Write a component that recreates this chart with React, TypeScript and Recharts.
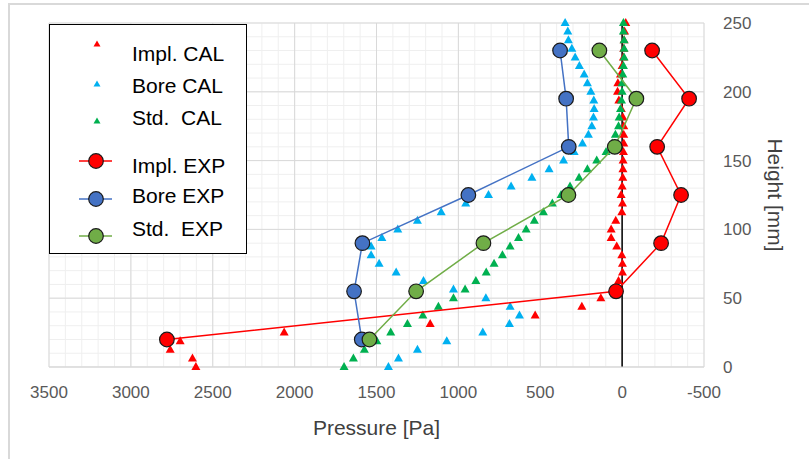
import React from "react";
import {
  CartesianGrid,
  ReferenceLine,
  Scatter,
  ScatterChart,
  XAxis,
  YAxis,
} from "recharts";

// heights of the calculated profiles [mm]
const CAL_HEIGHT = [
  250, 243.75, 237.5, 231.25, 225, 218.75, 212.5, 206.25, 200, 193.75, 187.5,
  181.25, 175, 168.75, 162.5, 156.25, 150, 143.75, 137.5, 131.25, 125, 118.75,
  112.5, 106.25, 100, 93.75, 87.5, 81.25, 75, 68.75, 62.5, 56.25, 50, 43.75,
  37.5, 31.25, 25, 18.75, 12.5, 6.25, 0,
];

// pressures [Pa], same order as CAL_HEIGHT
const IMPL_CAL = [
  -22, -15, -12, -10, -8, 0, 10, 26, 28, 20, 5, -5, -10, -10, -10, -8, -6, -5,
  -4, 0, 6, -2, 2, 39, 67, 67, 33, 2, -2, -2, 22, 40, 130, 246, 531, 1172, 2064,
  2699, 2760, 2624, 2603,
];
const BORE_CAL = [
  348, 332, 328, 307, 287, 261, 232, 212, 191, 173, 171, 175, 185, 206, 242,
  293, 358, 446, 551, 678, 816, 955, 1105, 1250, 1370, 1467, 1533, 1533, 1484,
  1380, 1213, 1030, 832, 684, 627, 688, 851, 1071, 1250, 1366, 1427,
];
const STD_CAL = [
  -8, -8, -12, -12, -12, -8, -4, 0, 0, 4, 10, 18, 22, 41, 60, 98, 155, 212, 263,
  318, 373, 426, 481, 536, 586, 633, 684, 731, 782, 830, 893, 959, 1030, 1122,
  1217, 1311, 1413, 1498, 1574, 1641, 1698,
];

// measured profiles
const EXP_HEIGHT = [20, 55, 90, 125, 160, 195, 230];
const IMPL_EXP = [2780, 37, -238, -360, -214, -409, -183];
const BORE_EXP = [1590, 1637, 1586, 939, 326, 342, 379];
const STD_EXP = [1543, 1258, 847, 328, 45, -87, 139];

const X_TICKS = [3500, 3000, 2500, 2000, 1500, 1000, 500, 0, -500];
const X_MINOR = [
  3500, 3400, 3300, 3200, 3100, 3000, 2900, 2800, 2700, 2600, 2500, 2400, 2300,
  2200, 2100, 2000, 1900, 1800, 1700, 1600, 1500, 1400, 1300, 1200, 1100, 1000,
  900, 800, 700, 600, 500, 400, 300, 200, 100, 0, -100, -200, -300, -400, -500,
];
const Y_TICKS = [0, 50, 100, 150, 200, 250];
const Y_MINOR = [
  0, 10, 20, 30, 40, 50, 60, 70, 80, 90, 100, 110, 120, 130, 140, 150, 160, 170,
  180, 190, 200, 210, 220, 230, 240, 250,
];

const X_DOMAIN = [-500, 3500];
const Y_DOMAIN = [0, 250];

const toRows = (ps: number[], hs: number[]) =>
  ps.map((p, i) => ({ p, h: hs[i] }));

const RED = "#FF0000";
const CYAN = "#00B0F0";
const GREEN_T = "#00B050";
const BLUE = "#4472C4";
const GREEN = "#70AD47";

const tri = (color: string) => (props: any) => {
  const { cx, cy } = props;
  if (cx == null || cy == null) return <g />;
  return (
    <polygon
      points={`${cx},${cy - 5} ${cx + 4.5},${cy + 3} ${cx - 4.5},${cy + 3}`}
      fill={color}
    />
  );
};

const dot = (color: string) => (props: any) => {
  const { cx, cy } = props;
  if (cx == null || cy == null) return <g />;
  return <circle cx={cx} cy={cy} r={7.3} fill={color} stroke="#1a1a1a" strokeWidth={1.2} />;
};

// minor grid positions, from the axis scale when available
const minorX = (props: any) => {
  const s = props?.xAxis?.scale;
  if (typeof s === "function") return X_MINOR.map((v) => s(v));
  const o = props.offset;
  return X_MINOR.map((v) => o.left + ((X_DOMAIN[1] - v) / (X_DOMAIN[1] - X_DOMAIN[0])) * o.width);
};
const minorY = (props: any) => {
  const s = props?.yAxis?.scale;
  if (typeof s === "function") return Y_MINOR.map((v) => s(v));
  const o = props.offset;
  return Y_MINOR.map((v) => o.top + ((Y_DOMAIN[1] - v) / (Y_DOMAIN[1] - Y_DOMAIN[0])) * o.height);
};

const LEGEND_ITEMS = [
  { name: "Impl. CAL", kind: "tri", color: RED, ty: 29, my: 19 },
  { name: "Bore CAL", kind: "tri", color: CYAN, ty: 61, my: 59 },
  { name: "Std.  CAL", kind: "tri", color: GREEN_T, ty: 93, my: 96 },
  { name: "Impl. EXP", kind: "dot", color: RED, ty: 141, my: 136 },
  { name: "Bore EXP", kind: "dot", color: BLUE, ty: 171, my: 174 },
  { name: "Std.  EXP", kind: "dot", color: GREEN, ty: 204, my: 211 },
];

function ChartLegend() {
  return (
    <div
      style={{
        position: "absolute",
        left: 49,
        top: 24,
        width: 196,
        height: 228,
        background: "#fff",
        border: "1.5px solid #000",
        fontFamily: "'Liberation Sans', Arial, sans-serif",
      }}
    >
      <svg width={196} height={228} style={{ position: "absolute", left: 0, top: 0 }}>
        {LEGEND_ITEMS.map((it) =>
          it.kind === "tri" ? (
            <polygon
              key={it.name}
              points={`47,${it.my - 3.5} 50.5,${it.my + 2.5} 43.5,${it.my + 2.5}`}
              fill={it.color}
            />
          ) : (
            <g key={it.name}>
              <line x1={29} x2={62} y1={it.my} y2={it.my} stroke={it.color} strokeWidth={1.5} />
              <circle cx={46} cy={it.my} r={7.3} fill={it.color} stroke="#1a1a1a" strokeWidth={1.2} />
            </g>
          )
        )}
      </svg>
      {LEGEND_ITEMS.map((it) => (
        <div
          key={it.name}
          style={{
            position: "absolute",
            left: 82,
            top: it.ty - 13,
            height: 26,
            lineHeight: "26px",
            fontSize: 21,
            color: "#000",
            whiteSpace: "pre",
          }}
        >
          {it.name}
        </div>
      ))}
    </div>
  );
}

const tickStyle = { fontSize: 17, fill: "#595959", fontFamily: "'Liberation Sans', Arial, sans-serif" };

export default function App() {
  return (
    <div style={{ position: "absolute", left: 0, top: 0, width: 809, height: 459, background: "#fff" }}>
      <div
        style={{
          position: "absolute",
          left: 8,
          top: 3,
          width: 820,
          height: 470,
          borderLeft: "2px solid #D9D9D9",
          borderTop: "2px solid #D9D9D9",
        }}
      />
      <ScatterChart
        width={809}
        height={459}
        margin={{ top: 23, left: 49, right: 20, bottom: 17 }}
        style={{ position: "absolute", left: 0, top: 0 }}
      >
        <CartesianGrid
          stroke="#EFEFEF"
          strokeWidth={1}
          verticalCoordinatesGenerator={minorX}
          horizontalCoordinatesGenerator={minorY}
        />
        <CartesianGrid stroke="#D9D9D9" strokeWidth={1} />
        <XAxis
          type="number"
          dataKey="p"
          domain={X_DOMAIN}
          reversed
          ticks={X_TICKS}
          interval={0}
          height={75}
          axisLine={{ stroke: "#D9D9D9" }}
          tickLine={false}
          tickSize={6}
          tickMargin={13}
          tick={tickStyle}
          label={{
            content: (props: any) => {
              const vb = props.viewBox || {};
              return (
                <text
                  x={vb.x + vb.width / 2}
                  y={427}
                  textAnchor="middle"
                  dominantBaseline="central"
                  fontSize={21}
                  fill="#404040"
                  fontFamily="'Liberation Sans', Arial, sans-serif"
                >
                  Pressure [Pa]
                </text>
              );
            },
          }}
        />
        <YAxis
          type="number"
          dataKey="h"
          domain={Y_DOMAIN}
          ticks={Y_TICKS}
          interval={0}
          orientation="right"
          width={85}
          axisLine={false}
          tickLine={false}
          tickSize={6}
          tickMargin={13}
          tick={{ ...tickStyle, textAnchor: "start" }}
          label={{
            content: (props: any) => {
              const vb = props.viewBox || {};
              const cx = vb.x + 71;
              const cy = vb.y + vb.height / 2;
              return (
                <text
                  x={cx}
                  y={cy}
                  transform={`rotate(90 ${cx} ${cy})`}
                  textAnchor="middle"
                  dominantBaseline="central"
                  fontSize={21}
                  fill="#404040"
                  fontFamily="'Liberation Sans', Arial, sans-serif"
                >
                  Height [mm]
                </text>
              );
            },
          }}
        />
        <ReferenceLine x={0} stroke="#000" strokeWidth={1.5} />
        <Scatter
          name="Impl. CAL"
          data={toRows(IMPL_CAL, CAL_HEIGHT)}
          shape={tri(RED)}
          isAnimationActive={false}
        />
        <Scatter
          name="Bore CAL"
          data={toRows(BORE_CAL, CAL_HEIGHT)}
          shape={tri(CYAN)}
          isAnimationActive={false}
        />
        <Scatter
          name="Std.  CAL"
          data={toRows(STD_CAL, CAL_HEIGHT)}
          shape={tri(GREEN_T)}
          isAnimationActive={false}
        />
        <Scatter
          name="Impl. EXP"
          data={toRows(IMPL_EXP, EXP_HEIGHT)}
          line={{ stroke: RED, strokeWidth: 1.5 }}
          lineType="joint"
          shape={dot(RED)}
          isAnimationActive={false}
        />
        <Scatter
          name="Bore EXP"
          data={toRows(BORE_EXP, EXP_HEIGHT)}
          line={{ stroke: BLUE, strokeWidth: 1.5 }}
          lineType="joint"
          shape={dot(BLUE)}
          isAnimationActive={false}
        />
        <Scatter
          name="Std.  EXP"
          data={toRows(STD_EXP, EXP_HEIGHT)}
          line={{ stroke: GREEN, strokeWidth: 1.5 }}
          lineType="joint"
          shape={dot(GREEN)}
          isAnimationActive={false}
        />
      </ScatterChart>
      <ChartLegend />
    </div>
  );
}
